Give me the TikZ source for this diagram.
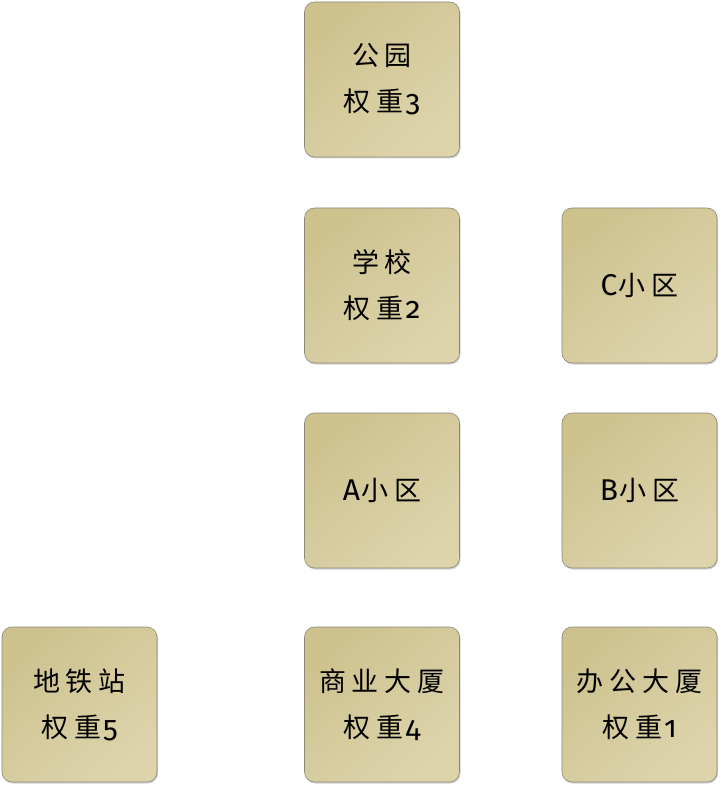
\documentclass[tikz,border=0pt]{standalone}
\usepackage{fontspec}
\setmainfont[RawFeature=+onum]{Fira Sans}
\newfontfamily\cjk{Noto Sans CJK SC}
\usetikzlibrary{shadows}
\newcommand\gp{\hspace{6pt}}
\newcommand\cj[1]{{\cjk #1}}
\newcommand\la[1]{{\fontsize{30pt}{46pt}\selectfont #1}}
\begin{document}
\begin{tikzpicture}[x=1pt,y=-1pt,
  tile/.style={draw={rgb,255:red,140;green,136;blue,118}, line width=0.6pt, rounded corners=10pt,
    minimum width=155pt, minimum height=155pt, inner sep=0pt,
    top color={rgb,255:red,205;green,194;blue,142}, bottom color={rgb,255:red,221;green,212;blue,172},
    shading angle=40,
    drop shadow={shadow xshift=1pt, shadow yshift=-1.5pt, opacity=0.3, fill=black!60},
    align=center, font=\fontsize{27pt}{46pt}\selectfont, text=black}]
\useasboundingbox (0,0) rectangle (720,786);
\node[tile] (park) at (382,79.5) {\cj{公\gp 园}\\\cj{权\gp 重}\hspace{2pt}\la{3}};
\node[tile] (school) at (382,285.5) {\cj{学\gp 校}\\\cj{权\gp 重}\hspace{2pt}\la{2}};
\node[tile] (c) at (639.5,285.5) {\la{C}\hspace{1pt}\cj{小\gp 区}};
\node[tile] (a) at (382,490.5) {\la{A}\hspace{1pt}\cj{小\gp 区}};
\node[tile] (b) at (639.5,490.5) {\la{B}\hspace{1pt}\cj{小\gp 区}};
\node[tile] (metro) at (79.5,704.5) {\cj{地\gp 铁\gp 站}\\\cj{权\gp 重}\hspace{2pt}\la{5}};
\node[tile] (mall) at (382,704.5) {\cj{商\gp 业\gp 大\gp 厦}\\\cj{权\gp 重}\hspace{2pt}\la{4}};
\node[tile] (office) at (639.5,704.5) {\cj{办\gp 公\gp 大\gp 厦}\\\cj{权\gp 重}\hspace{2pt}\la{1}};
\end{tikzpicture}
\end{document}
